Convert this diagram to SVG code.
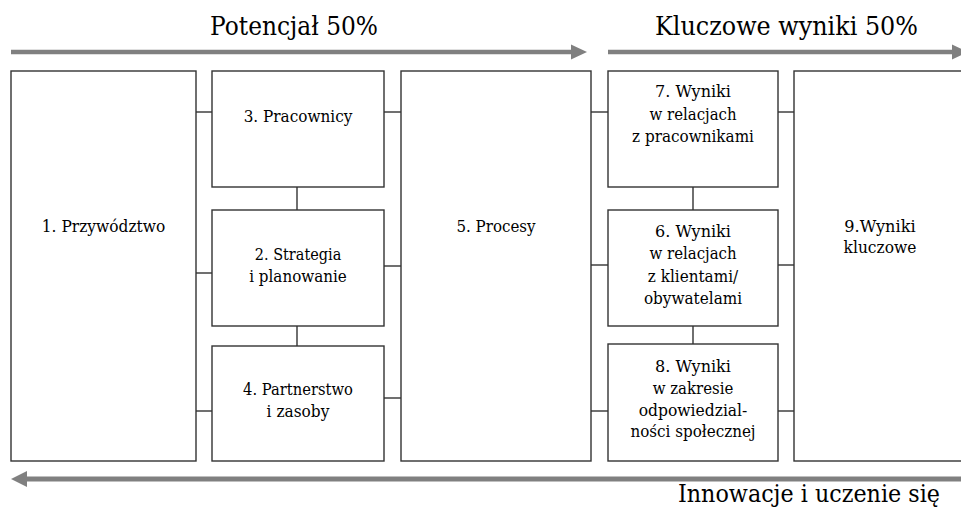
<svg xmlns="http://www.w3.org/2000/svg" width="961" height="514" viewBox="0 0 961 514">
<style>
.box{fill:#fff;stroke:#333;stroke-width:1.4}
.con{stroke:#333;stroke-width:1.4;fill:none}
text{font-family:'DejaVu Serif',serif;fill:#000;text-anchor:middle}
.lbl{font-size:17.5px}
.ttl{font-size:26.5px}
.arr{stroke:#808080;fill:none}
.head{fill:#808080}
</style>
<rect width="961" height="514" fill="#fff"/>
<g id="arrows">
<line class="arr" x1="11" y1="52" x2="572" y2="52" stroke-width="4.5"/>
<polygon class="head" points="571,44.5 587,52 571,59.5"/>
<line class="arr" x1="608" y1="52" x2="953" y2="52" stroke-width="4.5"/>
<polygon class="head" points="952,44.5 968,52 952,59.5"/>
<line class="arr" x1="26" y1="479" x2="961" y2="479" stroke-width="5"/>
<polygon class="head" points="27,471 11,479 27,487"/>
</g>
<g id="titles">
<text class="ttl" x="294" y="35" textLength="168" lengthAdjust="spacingAndGlyphs">Potencjał 50%</text>
<text class="ttl" x="786.5" y="35" textLength="263" lengthAdjust="spacingAndGlyphs">Kluczowe wyniki 50%</text>
<text class="ttl" x="809" y="502" style="font-size:25px" textLength="262" lengthAdjust="spacingAndGlyphs">Innowacje i uczenie się</text>
</g>
<g id="connectors">
<line class="con" x1="196" y1="112" x2="212" y2="112"/>
<line class="con" x1="384" y1="112" x2="401" y2="112"/>
<line class="con" x1="196" y1="273" x2="212" y2="273"/>
<line class="con" x1="384" y1="266" x2="401" y2="266"/>
<line class="con" x1="196" y1="411" x2="212" y2="411"/>
<line class="con" x1="384" y1="398" x2="401" y2="398"/>
<line class="con" x1="297" y1="187" x2="297" y2="210"/>
<line class="con" x1="297" y1="326" x2="297" y2="346"/>
<line class="con" x1="591" y1="112" x2="608" y2="112"/>
<line class="con" x1="778" y1="112" x2="794" y2="112"/>
<line class="con" x1="591" y1="265" x2="608" y2="265"/>
<line class="con" x1="778" y1="265" x2="794" y2="265"/>
<line class="con" x1="591" y1="411" x2="608" y2="411"/>
<line class="con" x1="778" y1="411" x2="794" y2="411"/>
<line class="con" x1="693" y1="187" x2="693" y2="210"/>
<line class="con" x1="693" y1="326" x2="693" y2="344"/>
</g>
<g id="n1"><rect class="box" x="11" y="71" width="185" height="390"/><text class="lbl" x="103.5" y="232" textLength="123.5" lengthAdjust="spacingAndGlyphs">1. Przywództwo</text></g>
<g id="n3"><rect class="box" x="212" y="71" width="172" height="116"/><text class="lbl" x="298" y="122" textLength="108.7" lengthAdjust="spacingAndGlyphs">3. Pracownicy</text></g>
<g id="n2"><rect class="box" x="212" y="210" width="172" height="116"/><text class="lbl" x="298" y="260" textLength="86.5" lengthAdjust="spacingAndGlyphs">2. Strategia</text><text class="lbl" x="298" y="282" textLength="97.6" lengthAdjust="spacingAndGlyphs">i planowanie</text></g>
<g id="n4"><rect class="box" x="212" y="346" width="172" height="115"/><text class="lbl" x="298" y="395" textLength="109.8" lengthAdjust="spacingAndGlyphs">4. Partnerstwo</text><text class="lbl" x="298" y="417" textLength="62.8" lengthAdjust="spacingAndGlyphs">i zasoby</text></g>
<g id="n5"><rect class="box" x="401" y="71" width="190" height="390"/><text class="lbl" x="496" y="232" textLength="79.2" lengthAdjust="spacingAndGlyphs">5. Procesy</text></g>
<g id="n7"><rect class="box" x="608" y="71" width="170" height="116"/><text class="lbl" x="693" y="97" textLength="76" lengthAdjust="spacingAndGlyphs">7. Wyniki</text><text class="lbl" x="693" y="119.5" textLength="87" lengthAdjust="spacingAndGlyphs">w relacjach</text><text class="lbl" x="693" y="142" textLength="121.9" lengthAdjust="spacingAndGlyphs">z pracownikami</text></g>
<g id="n6"><rect class="box" x="608" y="210" width="170" height="116"/><text class="lbl" x="693" y="236.5" textLength="76" lengthAdjust="spacingAndGlyphs">6. Wyniki</text><text class="lbl" x="693" y="259" textLength="87" lengthAdjust="spacingAndGlyphs">w relacjach</text><text class="lbl" x="693" y="281.5" textLength="90.3" lengthAdjust="spacingAndGlyphs">z klientami/</text><text class="lbl" x="693" y="304" textLength="98.2" lengthAdjust="spacingAndGlyphs">obywatelami</text></g>
<g id="n8"><rect class="box" x="608" y="344" width="170" height="117"/><text class="lbl" x="693" y="372" textLength="76" lengthAdjust="spacingAndGlyphs">8. Wyniki</text><text class="lbl" x="693" y="393.5" textLength="80.7" lengthAdjust="spacingAndGlyphs">w zakresie</text><text class="lbl" x="693" y="415.5" textLength="108.7" lengthAdjust="spacingAndGlyphs">odpowiedzial-</text><text class="lbl" x="693" y="437" textLength="125.1" lengthAdjust="spacingAndGlyphs">ności społecznej</text></g>
<g id="n9"><rect class="box" x="794" y="71" width="180" height="390"/><text class="lbl" x="880" y="232" textLength="71.3" lengthAdjust="spacingAndGlyphs">9.Wyniki</text><text class="lbl" x="880" y="253" textLength="72.8" lengthAdjust="spacingAndGlyphs">kluczowe</text></g>
</svg>
